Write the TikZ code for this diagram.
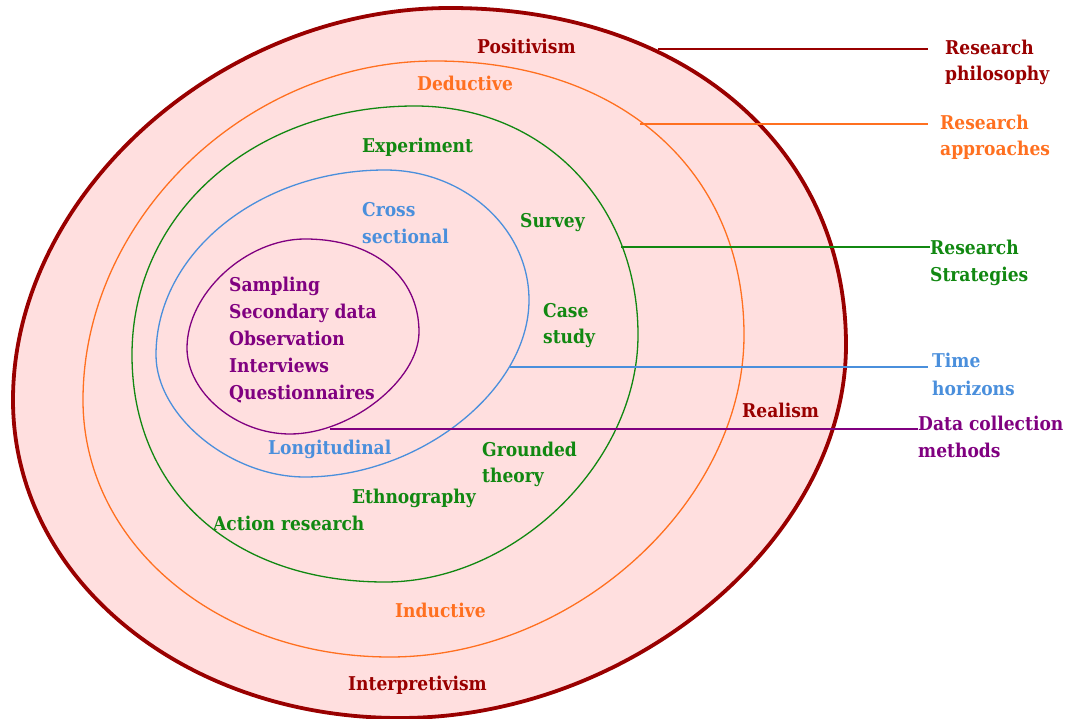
\documentclass[tikz,border=0pt]{standalone}
\usepackage{fontspec}
\setmainfont{DejaVu Serif}[FakeStretch=0.9]
\definecolor{dred}{HTML}{990000}
\definecolor{orng}{HTML}{FF7020}
\definecolor{grn}{HTML}{118811}
\definecolor{blu}{HTML}{4A8FDC}
\definecolor{purp}{HTML}{800080}
\definecolor{pinkbg}{HTML}{FFDFDF}
\begin{document}
\begin{tikzpicture}[x=1pt,y=-1pt,
  lbl/.style={font=\bfseries\fontsize{19}{27}\selectfont, inner sep=0pt, anchor=base west},
  ring/.style={line width=1.3pt},
  conn/.style={line width=1.3pt}]
\useasboundingbox (0,0) rectangle (1068,719);
% outer ring (research philosophy)
\draw[dred, line width=3.8pt, fill=pinkbg]
  (450,8) .. controls (683.6,8) and (846,146.2) .. (846,345)
  .. controls (846,539) and (631.9,718) .. (400,718)
  .. controls (183.3,718) and (13,578.1) .. (13,400)
  .. controls (13,194.2) and (220.6,8) .. (450,8) -- cycle;
% approaches
\draw[orng, ring]
  (435,61) .. controls (620.4,61) and (744,170.6) .. (744,335)
  .. controls (744,502.4) and (574.1,657) .. (390,657)
  .. controls (218.1,657) and (83,543.9) .. (83,400)
  .. controls (83,218.6) and (246.7,61) .. (435,61) -- cycle;
% strategies
\draw[grn, ring]
  (415,106) .. controls (543.2,106) and (638,203.3) .. (638,335)
  .. controls (638,462.2) and (515.3,582) .. (385,582)
  .. controls (233.2,582) and (132,491.2) .. (132,355)
  .. controls (132,213.1) and (253.7,106) .. (415,106) -- cycle;
% time horizons
\draw[blu, ring]
  (385,170) .. controls (464.2,170) and (529,228.5) .. (529,300)
  .. controls (529,390.3) and (419.2,477) .. (305,477)
  .. controls (230.5,477) and (156,416) .. (156,355)
  .. controls (156,253.25) and (259,170) .. (385,170) -- cycle;
% data collection
\draw[purp, ring]
  (305,239) .. controls (373.4,239) and (419,276.2) .. (419,332)
  .. controls (419,379.9) and (350.6,434) .. (290,434)
  .. controls (236.4,434) and (187,392.7) .. (187,348)
  .. controls (187,293.5) and (246,239) .. (305,239) -- cycle;

% inner labels
\node[lbl, dred] (positivism) at (477,54) {Positivism};
\node[lbl, orng] (deductive) at (417,91) {Deductive};
\node[lbl, grn] (experiment) at (362,153) {Experiment};
\node[lbl, blu] (cross) at (362,217) {Cross};
\node[lbl, blu] (sectional) at (362,244) {sectional};
\node[lbl, grn] (survey) at (520,228) {Survey};
\node[lbl, grn] (case) at (543,317) {Case};
\node[lbl, grn] (study) at (543,343) {study};
\node[lbl, purp] (sampling) at (229,291) {Sampling};
\node[lbl, purp] (secondary) at (229,318) {Secondary data};
\node[lbl, purp] (observation) at (229,345) {Observation};
\node[lbl, purp] (interviews) at (229,372) {Interviews};
\node[lbl, purp] (questionnaires) at (229,399) {Questionnaires};
\node[lbl, blu] (longitudinal) at (268,454) {Longitudinal};
\node[lbl, grn] (grounded) at (482,456) {Grounded};
\node[lbl, grn] (theory) at (482,482) {theory};
\node[lbl, grn] (ethnography) at (352,503) {Ethnography};
\node[lbl, grn] (action) at (213,530) {Action research};
\node[lbl, orng] (inductive) at (395,617) {Inductive};
\node[lbl, dred] (interpretivism) at (348,690) {Interpretivism};
\node[lbl, dred] (realism) at (742,417) {Realism};

% right labels
\node[lbl, dred] (philA) at (945,55) {Research};
\node[lbl, dred] (philB) at (945,81) {philosophy};
\node[lbl, orng] (apprA) at (940,130) {Research};
\node[lbl, orng] (apprB) at (940,156) {approaches};
\node[lbl, grn] (stratA) at (930,255) {Research};
\node[lbl, grn] (stratB) at (930,282) {Strategies};
\node[lbl, blu] (timeA) at (932,367) {Time};
\node[lbl, blu] (timeB) at (932,395) {horizons};
\node[lbl, purp] (dataA) at (918,430) {Data collection};
\node[lbl, purp] (dataB) at (918,457) {methods};

% connectors
\coordinate (s1) at (658,49);
\coordinate (s2) at (640,124);
\coordinate (s3) at (621,247);
\coordinate (s4) at (510,367);
\coordinate (s5) at (330,429);
\coordinate (e1) at ([xshift=-17pt]philA.west);
\coordinate (e2) at ([xshift=-12pt]apprA.west);
\coordinate (e3) at (stratA.west);
\coordinate (e4) at ([xshift=-4pt]timeA.west);
\coordinate (e5) at (dataA.west);
\draw[dred, conn] (s1) -- (s1 -| e1);
\draw[orng, conn] (s2) -- (s2 -| e2);
\draw[grn, conn] (s3) -- (s3 -| e3);
\draw[blu, conn] (s4) -- (s4 -| e4);
\draw[purp, conn] (s5) -- (s5 -| e5);
\end{tikzpicture}
\end{document}
